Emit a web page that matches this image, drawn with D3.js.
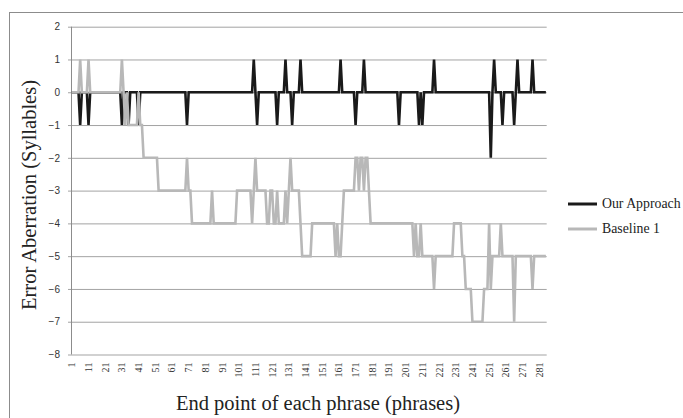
<!DOCTYPE html>
<html lang="en">
<head>
<meta charset="UTF-8">
<title>Error Aberration</title>
<script src="https://d3js.org/d3.v7.min.js"></script>
<style>
body {
  margin: 0;
  background: white;
}
svg {
  display: block;
}
</style>
</head>
<body>
<svg></svg>
<script>
// phrase end points 1..285
let categories = d3.range(1, 286);
let xTickLabels = [1, 11, 21, 31, 41, 51, 61, 71, 81, 91, 101, 111, 121, 131, 141, 151, 161, 171, 181, 191, 201, 211, 221, 231, 241, 251, 261, 271, 281];
let yTicks = [-8, -7, -6, -5, -4, -3, -2, -1, 0, 1, 2];
let seriesNames = ["Our Approach", "Baseline 1"];

let ourApproach = [
  0,0,0,0,0,-1,0,0,0,0,
  -1,0,0,0,0,0,0,0,0,0,
  0,0,0,0,0,0,0,0,0,0,
  -1,0,0,0,-1,0,0,0,0,0,
  -1,0,0,0,0,0,0,0,0,0,
  0,0,0,0,0,0,0,0,0,0,
  0,0,0,0,0,0,0,0,0,-1,
  0,0,0,0,0,0,0,0,0,0,
  0,0,0,0,0,0,0,0,0,0,
  0,0,0,0,0,0,0,0,0,0,
  0,0,0,0,0,0,0,0,0,1,
  0,-1,0,0,0,0,0,0,0,0,
  0,0,0,-1,0,0,0,0,1,0,
  0,0,-1,0,0,0,0,1,0,0,
  0,0,0,0,0,0,0,0,0,0,
  0,0,0,0,0,0,0,0,0,0,
  0,1,0,0,0,0,0,0,0,0,
  -1,0,0,0,0,1,0,0,0,0,
  0,0,0,0,0,0,0,0,0,0,
  0,0,0,0,0,0,-1,0,0,0,
  0,0,0,0,0,0,0,0,-1,0,
  -1,0,0,0,0,0,0,1,0,0,
  0,0,0,0,0,0,0,0,0,0,
  0,0,0,0,0,0,0,0,0,0,
  0,0,0,0,0,0,0,0,0,0,
  0,-2,0,1,0,0,0,0,-1,0,
  0,0,0,0,0,-1,0,1,0,0,
  0,0,0,0,0,0,1,0,0,0,
  0,0,0,0,0
];

let baseline1 = [
  0,0,0,0,0,1,0,0,0,0,
  1,0,0,0,0,0,0,0,0,0,
  0,0,0,0,0,0,0,0,0,0,
  1,0,-1,0,-1,-1,-1,-1,-1,-1,
  0,-1,-1,-2,-2,-2,-2,-2,-2,-2,
  -2,-2,-3,-3,-3,-3,-3,-3,-3,-3,
  -3,-3,-3,-3,-3,-3,-3,-3,-3,-2,
  -3,-3,-4,-4,-4,-4,-4,-4,-4,-4,
  -4,-4,-4,-4,-3,-4,-4,-4,-4,-4,
  -4,-4,-4,-4,-4,-4,-4,-4,-4,-3,
  -3,-3,-3,-3,-3,-3,-3,-3,-4,-3,
  -2,-3,-3,-3,-3,-3,-3,-4,-4,-3,
  -3,-4,-4,-3,-4,-4,-4,-4,-3,-4,
  -3,-2,-3,-3,-3,-3,-3,-4,-5,-5,
  -5,-5,-5,-5,-4,-4,-4,-4,-4,-4,
  -4,-4,-4,-4,-4,-4,-4,-4,-5,-4,
  -5,-5,-4,-3,-3,-3,-3,-3,-3,-3,
  -2,-2,-3,-2,-2,-3,-2,-2,-3,-4,
  -4,-4,-4,-4,-4,-4,-4,-4,-4,-4,
  -4,-4,-4,-4,-4,-4,-4,-4,-4,-4,
  -4,-4,-4,-4,-4,-5,-4,-5,-5,-4,
  -5,-5,-5,-5,-5,-5,-5,-6,-5,-5,
  -5,-5,-5,-5,-5,-5,-5,-5,-5,-4,
  -4,-4,-4,-4,-5,-5,-6,-6,-6,-6,
  -7,-7,-7,-7,-7,-7,-7,-6,-6,-6,
  -4,-6,-5,-5,-5,-5,-5,-4,-5,-5,
  -5,-5,-5,-5,-5,-7,-5,-5,-5,-5,
  -5,-5,-5,-5,-5,-5,-6,-5,-5,-5,
  -5,-5,-5,-5,-5
];

let width = 683;
let height = 418;
let plotLeft = 71, plotRight = 546.7, plotTop = 26.7, plotBottom = 354.5;

let svg = d3.select("svg")
  .attr("width", width)
  .attr("height", height);

// outer frame
svg.append("rect")
  .attr("x", 9.5)
  .attr("y", 12.5)
  .attr("width", 720)
  .attr("height", 440)
  .attr("fill", "none")
  .attr("stroke", "#8c8c8c")
  .attr("stroke-width", 1);

let x = d3.scaleBand()
  .domain(categories)
  .range([plotLeft, plotRight]);
let y = d3.scaleLinear()
  .domain([-8, 2])
  .range([plotBottom, plotTop]);

let px = d => x(d) + x.bandwidth() / 2;

// horizontal gridlines + y labels
let yAxis = svg.append("g")
  .attr("transform", "translate(" + plotRight + ",0)")
  .call(d3.axisLeft(y).tickValues(yTicks).tickSize(plotRight - plotLeft + 3).tickPadding(8).tickFormat(d3.format("d")));
yAxis.select(".domain").remove();
yAxis.selectAll("line")
  .attr("stroke", "#a3a3a3");
yAxis.selectAll("text")
  .attr("fill", "#333")
  .style("font-family", "'Liberation Sans', Arial, sans-serif")
  .style("font-size", "10px");

// left axis line
svg.append("line")
  .attr("x1", plotLeft + 0.5).attr("x2", plotLeft + 0.5)
  .attr("y1", y(2)).attr("y2", y(-8))
  .attr("stroke", "#8c8c8c");

// x labels
let xAxis = svg.append("g")
  .attr("transform", "translate(0," + (plotBottom + 8) + ")")
  .call(d3.axisBottom(x).tickValues(xTickLabels).tickSize(0));
xAxis.select(".domain").remove();
xAxis.selectAll("text")
  .attr("y", 0)
  .attr("x", 0)
  .attr("dy", "0.35em")
  .attr("transform", "rotate(-90)")
  .style("text-anchor", "end")
  .attr("fill", "#333")
  .style("font-family", "'Liberation Serif', 'Times New Roman', serif")
  .style("font-size", "10px");

let line = d3.line()
  .x((d, i) => px(categories[i]))
  .y(d => y(d));

svg.append("path")
  .datum(ourApproach)
  .attr("d", line)
  .attr("fill", "none")
  .attr("stroke", "#1a1a1a")
  .attr("stroke-width", 2.6)
  .attr("stroke-linejoin", "miter");

svg.append("path")
  .datum(baseline1)
  .attr("d", line)
  .attr("fill", "none")
  .attr("stroke", "#b8b8b8")
  .attr("stroke-width", 2.6)
  .attr("stroke-linejoin", "miter");

// axis titles
svg.append("text")
  .attr("transform", "translate(36,195) rotate(-90)")
  .attr("text-anchor", "middle")
  .style("font-family", "'Liberation Serif', 'Times New Roman', serif")
  .style("font-size", "20.5px")
  .attr("fill", "#222")
  .text("Error Aberration (Syllables)");

svg.append("text")
  .attr("x", 318)
  .attr("y", 410)
  .attr("text-anchor", "middle")
  .style("font-family", "'Liberation Serif', 'Times New Roman', serif")
  .style("font-size", "20.5px")
  .attr("fill", "#222")
  .text("End point of each phrase (phrases)");

// legend
let legendColors = ["#1a1a1a", "#b8b8b8"];
let legend = svg.append("g");
seriesNames.forEach((name, i) => {
  let ly = 204 + i * 25;
  legend.append("line")
    .attr("x1", 568).attr("x2", 597)
    .attr("y1", ly).attr("y2", ly)
    .attr("stroke", legendColors[i])
    .attr("stroke-width", 3);
  legend.append("text")
    .attr("x", 602)
    .attr("y", ly)
    .attr("dy", "0.32em")
    .style("font-family", "'Liberation Serif', 'Times New Roman', serif")
    .style("font-size", "13.8px")
    .attr("fill", "#222")
    .text(name);
});
</script>
</body>
</html>
